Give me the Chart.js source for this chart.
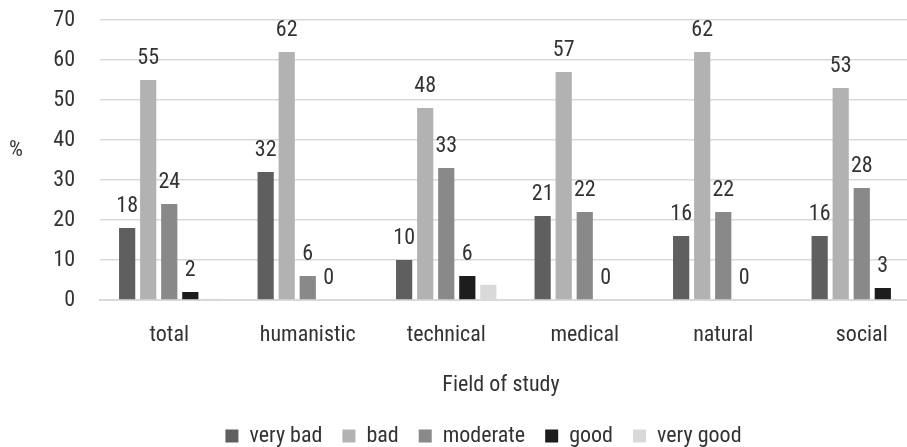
<!DOCTYPE html>
<html>
<head>
<meta charset="utf-8">
<script src="https://cdn.jsdelivr.net/npm/chart.js@4/dist/chart.umd.min.js"></script>
<style>
  html, body { margin: 0; padding: 0; background: #fff; overflow: hidden; }
  #wrap { width: 940px; height: 447px; position: relative; }
</style>
</head>
<body>
<div id="wrap"><canvas id="c"></canvas></div>
<script>
// Field-of-study categories and the share (%) of each rating
const categories = ['total', 'humanistic', 'technical', 'medical', 'natural', 'social'];
const veryBad  = [18, 32, 10, 21, 16, 16];
const bad      = [55, 62, 48, 57, 62, 53];
const moderate = [24, 6, 33, 22, 22, 28];
const good     = [2, 0, 6, 0, 0, 3];
const veryGood = [0.3, 0, 3.8, 0, 0, 0];
const seriesNames = ['very bad', 'bad', 'moderate', 'good', 'very good'];
const yTicks = [0, 10, 20, 30, 40, 50, 60, 70];
// Series whose values are printed above the bars
const labelledSeries = [0, 1, 2, 3];

const FONT = "'Roboto Condensed', 'Liberation Sans Narrow', Roboto, sans-serif";
const FS = 22;
const TEXT = '#333333';

const colors = ['#5f5f5f', '#b2b2b2', '#898989', '#1d1d1d', '#d9d9d9'];
const values = [veryBad, bad, moderate, good, veryGood];

const barLabels = {
  id: 'barLabels',
  afterDatasetsDraw(chart) {
    const ctx = chart.ctx;
    ctx.save();
    ctx.font = FS + 'px ' + FONT;
    ctx.fillStyle = TEXT;
    ctx.textAlign = 'center';
    ctx.textBaseline = 'bottom';
    labelledSeries.forEach(di => {
      const meta = chart.getDatasetMeta(di);
      meta.data.forEach((el, i) => {
        const v = chart.data.datasets[di].data[i];
        if (v === null || v === undefined) return;
        ctx.fillText(String(v), el.x, el.y - 11);
      });
    });
    ctx.restore();
  }
};

const axisTitles = {
  id: 'axisTitles',
  afterLayout(chart) {
    // nudge the legend row right and down under the plot
    const lg = chart.legend;
    lg.left += 18; lg.right += 18;
    lg.top += 10; lg.bottom += 10;
  },
  afterDraw(chart) {
    const ctx = chart.ctx;
    ctx.save();
    ctx.font = FS + 'px ' + FONT;
    ctx.fillStyle = TEXT;
    ctx.textAlign = 'center';
    ctx.textBaseline = 'middle';
    ctx.fillText('%', 16, 150);
    ctx.fillText('Field of study', 501, 385);
    ctx.restore();
  }
};

new Chart(document.getElementById('c'), {
  type: 'bar',
  data: {
    labels: categories,
    datasets: seriesNames.map((name, k) => ({
      label: name,
      data: values[k],
      backgroundColor: colors[k],
      borderWidth: 0,
      categoryPercentage: 0.76,
      barPercentage: 0.77
    }))
  },
  options: {
    responsive: true,
    maintainAspectRatio: false,
    animation: false,
    layout: { padding: { left: 0, right: 9, top: 20, bottom: 0 } },
    plugins: {
      legend: {
        position: 'bottom',
        labels: {
          font: { family: FONT, size: FS },
          color: TEXT,
          boxWidth: 13,
          boxHeight: 13,
          padding: 20
        }
      },
      tooltip: { enabled: false }
    },
    scales: {
      x: {
        grid: { display: false },
        border: { display: true, color: '#d9d9d9', width: 2 },
        ticks: { font: { family: FONT, size: FS }, color: TEXT, padding: 14 },
        afterFit(s) { s.height = 95; }
      },
      y: {
        min: 0, max: 70,
        afterBuildTicks(s) { s.ticks = yTicks.map(v => ({ value: v })); },
        grid: { color: '#d9d9d9', lineWidth: 1.5, drawTicks: false },
        border: { display: false },
        ticks: { font: { family: FONT, size: FS }, color: TEXT, padding: 25 },
        afterFit(s) { s.width = 100; s.paddingTop = 0; s.paddingBottom = 0; }
      }
    }
  },
  plugins: [barLabels, axisTitles]
});
</script>
</body>
</html>
